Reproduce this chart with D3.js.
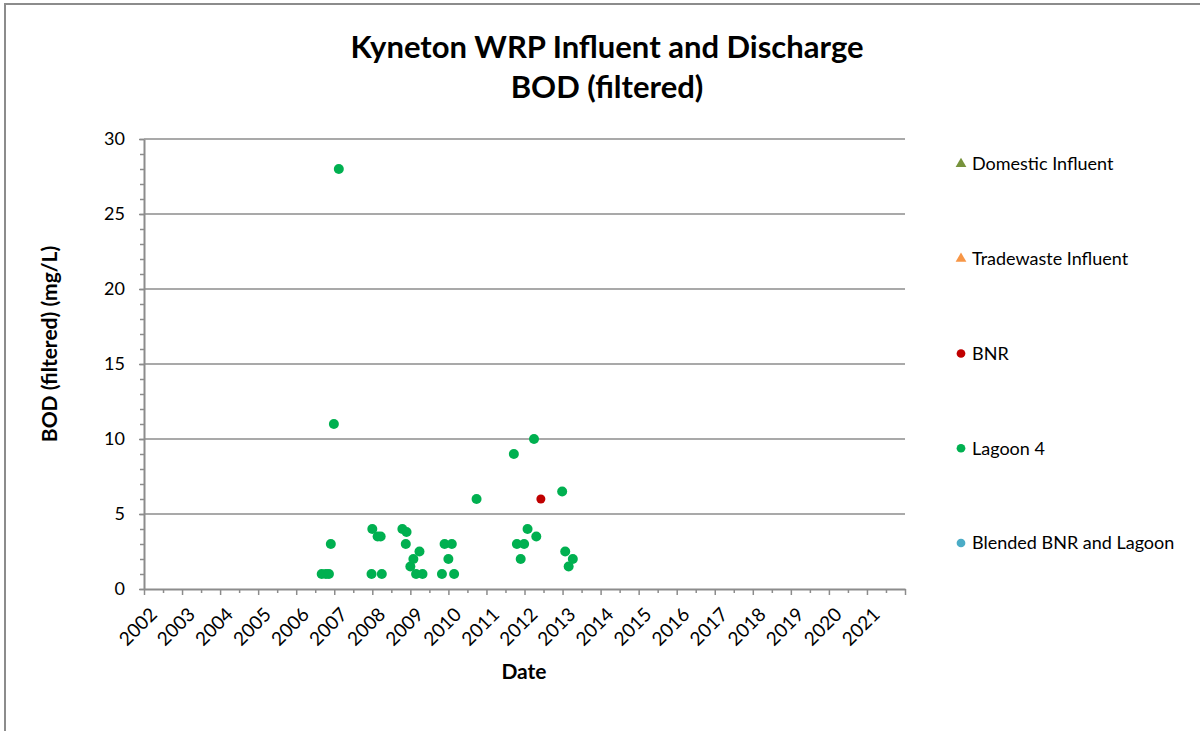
<!DOCTYPE html>
<html>
<head>
<meta charset="utf-8">
<script src="https://cdn.jsdelivr.net/npm/d3@7"></script>
<style>
  body { margin: 0; background: #fff; }
  svg { font-family: Lato, "Open Sans", sans-serif; }
</style>
</head>
<body>
<svg id="chart" width="1200" height="731"></svg>
<script>
// data (decimal years, mg/L)
var lagoonDates = [2006.67, 2006.78, 2006.86, 2006.91, 2006.99, 2007.12, 2007.98, 2008.00, 2008.14, 2008.22,
                   2008.25, 2008.79, 2008.90, 2008.88, 2009.00, 2009.08, 2009.15, 2009.24, 2009.32, 2009.83,
                   2009.90, 2010.00, 2010.09, 2010.15, 2010.74, 2011.72, 2011.80, 2011.90, 2011.99, 2012.08,
                   2012.25, 2012.31, 2012.99, 2013.07, 2013.16, 2013.27];
var lagoonValues = [1, 1, 1, 3, 11, 28, 1, 4, 3.5, 3.5,
                    1, 4, 3.8, 3, 1.5, 2, 1, 2.5, 1, 1,
                    3, 2, 3, 1, 6, 9, 3, 2, 3, 4,
                    10, 3.5, 6.5, 2.5, 1.5, 2];
var bnrDates = [2012.43];
var bnrValues = [6];
var domesticDates = [], domesticValues = [];
var tradeDates = [], tradeValues = [];
var blendedDates = [], blendedValues = [];

var years = d3.range(2002, 2022);
var yTicks = [0, 5, 10, 15, 20, 25, 30];

var seriesNames = ["Domestic Influent", "Tradewaste Influent", "BNR", "Lagoon 4", "Blended BNR and Lagoon"];
var seriesColors = ["#77933C", "#F79646", "#C00000", "#00B050", "#4BACC6"];
var seriesShapes = ["triangle", "triangle", "circle", "circle", "circle"];

var svg = d3.select("#chart");
var gridColor = "#8c8c8c";

// outer chart border
svg.append("rect")
    .attr("x", 5).attr("y", 4)
    .attr("width", 1200).attr("height", 800)
    .attr("fill", "none")
    .attr("stroke", gridColor)
    .attr("stroke-width", 2);

var plotLeft = 144, plotRight = 905, plotTop = 139, plotBottom = 589;

var x = d3.scaleLinear().domain([2002, 2022]).range([plotLeft, plotRight]);
var y = d3.scaleLinear().domain([0, 30]).range([plotBottom, plotTop]);

// gridlines
svg.append("g")
    .selectAll("line")
    .data(yTicks.filter(d => d > 0))
    .enter()
    .append("line")
    .attr("x1", plotLeft).attr("x2", plotRight)
    .attr("y1", d => y(d)).attr("y2", d => y(d))
    .attr("stroke", gridColor)
    .attr("stroke-width", 1.5);

// y minor ticks
svg.append("g")
    .attr("transform", "translate(" + plotLeft + ",0)")
    .call(d3.axisLeft(y).tickValues(d3.range(0, 31)).tickSize(4).tickFormat(""))
    .call(g => g.select(".domain").remove())
    .call(g => g.selectAll("line").attr("stroke", gridColor).attr("stroke-width", 1.5));

// y axis
var yAxis = svg.append("g")
    .attr("transform", "translate(" + plotLeft + ",0)")
    .call(d3.axisLeft(y).tickValues(yTicks).tickSize(5).tickPadding(14).tickSizeOuter(0));
yAxis.select(".domain").attr("stroke", gridColor).attr("stroke-width", 2);
yAxis.selectAll("line").attr("stroke", gridColor).attr("stroke-width", 1.5);
yAxis.selectAll("text").attr("font-size", 18).attr("fill", "#000").attr("font-family", "Lato");

// x minor ticks
svg.append("g")
    .attr("transform", "translate(0," + plotBottom + ")")
    .call(d3.axisBottom(x).tickValues(d3.range(2002.5, 2022, 1)).tickSize(4).tickFormat(""))
    .call(g => g.select(".domain").remove())
    .call(g => g.selectAll("line").attr("stroke", gridColor).attr("stroke-width", 1.5));

// x axis
var xAxis = svg.append("g")
    .attr("transform", "translate(0," + plotBottom + ")")
    .call(d3.axisBottom(x).tickValues(years.concat([2022])).tickSize(6).tickSizeOuter(0)
        .tickFormat(d => d < 2022 ? d : ""));
xAxis.select(".domain").attr("stroke", gridColor).attr("stroke-width", 2);
xAxis.selectAll("line").attr("stroke", gridColor).attr("stroke-width", 1.5);
xAxis.selectAll("text")
    .attr("font-size", 19)
    .attr("fill", "#000")
    .attr("font-family", "Lato")
    .attr("text-anchor", "end")
    .attr("dy", "0.35em")
    .attr("transform", "translate(9,22) rotate(-45)")
    .attr("y", 0).attr("x", 0);

// points
function drawPoints(dates, values, color, r) {
    svg.append("g")
        .selectAll("circle")
        .data(dates)
        .enter()
        .append("circle")
        .attr("cx", d => x(d))
        .attr("cy", (d, i) => y(values[i]))
        .attr("r", r)
        .attr("fill", color);
}
drawPoints(domesticDates, domesticValues, seriesColors[0], 5);
drawPoints(tradeDates, tradeValues, seriesColors[1], 5);
drawPoints(bnrDates, bnrValues, seriesColors[2], 4.5);
drawPoints(lagoonDates, lagoonValues, seriesColors[3], 5);
drawPoints(blendedDates, blendedValues, seriesColors[4], 5);

// title
var title = svg.append("text")
    .attr("text-anchor", "middle")
    .attr("font-weight", "bold")
    .attr("font-size", 31)
    .attr("fill", "#000");
title.append("tspan").attr("x", 607).attr("y", 58).text("Kyneton WRP Influent and Discharge");
title.append("tspan").attr("x", 607).attr("y", 98).text("BOD (filtered)");

// axis titles
svg.append("text")
    .attr("transform", "translate(57,344) rotate(-90)")
    .attr("text-anchor", "middle")
    .attr("font-weight", "bold")
    .attr("font-size", 21)
    .text("BOD (filtered) (mg/L)");

svg.append("text")
    .attr("x", 524).attr("y", 679)
    .attr("text-anchor", "middle")
    .attr("font-weight", "bold")
    .attr("font-size", 21)
    .text("Date");

// legend
var legend = svg.append("g")
    .selectAll("g")
    .data(seriesNames)
    .enter()
    .append("g")
    .attr("transform", (d, i) => "translate(961," + (164 + i * 94.75) + ")");
legend.append("path")
    .attr("d", (d, i) => d3.symbol()
        .type(seriesShapes[i] == "triangle" ? d3.symbolTriangle : d3.symbolCircle)
        .size(seriesShapes[i] == "triangle" ? 50 : 60)())
    .attr("fill", (d, i) => seriesColors[i]);
legend.append("text")
    .attr("x", 11)
    .attr("dy", "0.35em")
    .attr("font-size", 18)
    .text(d => d);
</script>
</body>
</html>
